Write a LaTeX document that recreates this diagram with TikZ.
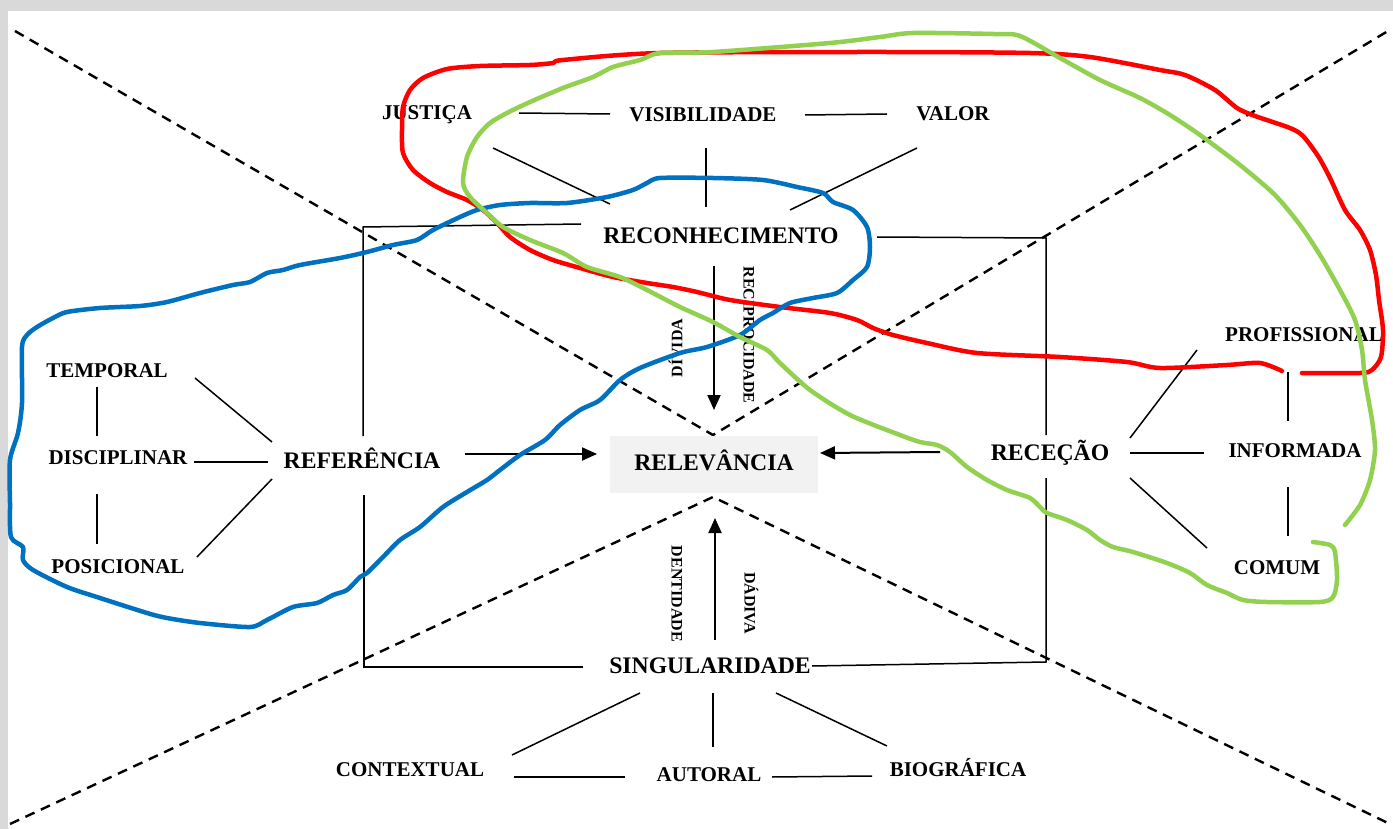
\documentclass[tikz,border=0pt]{standalone}
\usepackage{fontspec}
\setmainfont{Liberation Serif}
\usetikzlibrary{calc,arrows.meta}
\definecolor{bordergray}{HTML}{D9D9D9}
\definecolor{boxgray}{HTML}{F2F2F2}
\definecolor{hred}{HTML}{FF0000}
\definecolor{hgreen}{HTML}{92D050}
\definecolor{hblue}{HTML}{0070C0}
\begin{document}
\begin{tikzpicture}[x=1pt,y=-1pt,
  mainlbl/.style={font=\fontsize{23.7}{28}\selectfont\bfseries, inner sep=0pt, text height=15.7pt, text depth=0pt},
  smalllbl/.style={font=\fontsize{21}{25}\selectfont\bfseries, inner sep=0pt, text height=13.9pt, text depth=0pt},
  vertlbl/.style={font=\fontsize{16}{19}\selectfont\bfseries, inner sep=0pt, text height=10.6pt, text depth=0pt},
  link/.style={line width=1.5pt},
  arr/.style={line width=2pt, -{Triangle[length=15pt,width=13pt]}},
  dashline/.style={dash pattern=on 10pt off 7pt, line width=2.4pt},
  freehand/.style={line width=4.5pt, line join=round, line cap=round}]
\useasboundingbox (0,0) rectangle (1393,829);
\fill[bordergray] (0,0) rectangle (1393,829);
\fill[white] (8,11) rectangle (1393,829);

% dashed X
\coordinate (xtop) at (713,435);
\coordinate (xbot) at (713,497);
\coordinate (c1) at (15,31);
\coordinate (c2) at (1388,31);
\coordinate (c3) at (10,824);
\coordinate (c4) at (1390,824);
\draw[dashline] (c1) -- (xtop) -- (c2);
\draw[dashline] (c3) -- (xbot) -- (c4);

% nodes
\node[fill=boxgray, minimum width=208pt, minimum height=57pt, inner sep=0pt] (relbox) at (714,464) {};
\node[mainlbl] (rel) at (714,463) {RELEVÂNCIA};
\node[mainlbl] (ref) at (362,461) {REFERÊNCIA};
\node[mainlbl] (rec) at (721,236) {RECONHECIMENTO};
\node[mainlbl] (sin) at (710,666) {SINGULARIDADE};
\node[mainlbl] (rcp) at (1050,453) {RECEÇÃO};
\node[smalllbl] (jus) at (427,113) {JUSTIÇA};
\node[smalllbl] (vis) at (703,115) {VISIBILIDADE};
\node[smalllbl] (val) at (953,114) {VALOR};
\node[smalllbl] (tem) at (107,371) {TEMPORAL};
\node[smalllbl] (dis) at (118,458) {DISCIPLINAR};
\node[smalllbl] (pos) at (118,567) {POSICIONAL};
\node[smalllbl] (pro) at (1304,335) {PROFISSIONAL};
\node[smalllbl] (inf) at (1295,451) {INFORMADA};
\node[smalllbl] (com) at (1277,568) {COMUM};
\node[smalllbl] (ctx) at (410,770) {CONTEXTUAL};
\node[smalllbl] (aut) at (709,775) {AUTORAL};
\node[smalllbl] (bio) at (958,770) {BIOGRÁFICA};
\node[vertlbl, rotate=90] (duv) at (677,348) {DÍVIDA};
\node[vertlbl, rotate=-90] (recip) at (749,335) {RECIPROCIDADE};
\node[vertlbl, rotate=-90] (ident) at (677,594) {DENTIDADE};
\node[vertlbl, rotate=-90] (dad) at (750,603) {DÁDIVA};

% frame corners
\coordinate (tl) at (363,227);
\coordinate (tr) at (1046,238);
\coordinate (br) at (1046,662);
\coordinate (bl) at (364,667);

% frame lines between main nodes
\draw[link] ($(ref)+(1,-25)$) -- (tl) -- ($(rec)+(-140,-12)$);
\draw[link] ($(rec)+(156,1)$) -- (tr) -- ($(rcp)+(-4,-18)$);
\draw[link] ($(rcp)+(-4,25)$) -- (br) -- ($(sin)+(102,0)$);
\draw[link] ($(sin)+(-127,1)$) -- (bl) -- ($(ref)+(2,34)$);

% arrows to RELEVANCIA
\draw[arr] ($(rec)+(-7,30)$) -- ($(relbox)+(0,-54)$);
\draw[arr] ($(sin)+(5,-26)$) -- ($(relbox)+(1,-44)+(0,98)$);
\draw[arr] ($(ref)+(103,-7)$) -- ($(relbox)+(-117,-10)$);
\draw[arr] ($(rcp)+(-110,-1)$) -- ($(relbox)+(106,-11)$);

% top group
\draw[link] ($(jus)+(92,0)$) -- ($(vis)+(-93,-1)$);
\draw[link] ($(vis)+(102,0)$) -- ($(val)+(-66,0)$);
\draw[link] ($(jus)+(66,35)$) -- ($(rec)+(-111,-32)$);
\draw[link] ($(vis)+(3,33)$) -- ($(rec)+(-15,-29)$);
\draw[link] ($(val)+(-36,34)$) -- ($(rec)+(69,-26)$);

% left group
\draw[link] ($(ref)+(-90,-19)$) -- ($(tem)+(88,7)$);
\draw[link] ($(ref)+(-94,1)$) -- ($(dis)+(76,4)$);
\draw[link] ($(ref)+(-90,18)$) -- ($(pos)+(79,-10)$);
\draw[link] ($(tem)+(-10,16)$) -- ($(dis)+(-21,-22)$);
\draw[link] ($(dis)+(-21,36)$) -- ($(pos)+(-21,-23)$);

% right group
\draw[link] ($(rcp)+(80,-15)$) -- ($(pro)+(-107,15)$);
\draw[link] ($(rcp)+(80,0)$) -- ($(inf)+(-91,2)$);
\draw[link] ($(rcp)+(80,25)$) -- ($(com)+(-70,-20)$);
\draw[link] ($(pro)+(-16,37)$) -- ($(inf)+(-7,-30)$);
\draw[link] ($(inf)+(-7,36)$) -- ($(com)+(11,-32)$);

% bottom group
\draw[link] ($(sin)+(-70,27)$) -- ($(ctx)+(102,-15)$);
\draw[link] ($(sin)+(3,27)$) -- ($(aut)+(4,-28)$);
\draw[link] ($(sin)+(66,27)$) -- ($(bio)+(-71,-24)$);
\draw[link] ($(ctx)+(104,7)$) -- ($(aut)+(-84,2)$);
\draw[link] ($(aut)+(63,2)$) -- ($(bio)+(-86,6)$);

% freehand red
\draw[freehand, hred] plot[smooth, tension=0.45] coordinates {
(1282,371) (1260,363) (1227,365) (1160,368) (1127,362) (1060,357) (977,353) (927,343) (893,335) (873,328) (857,320) (830,313) (780,307) (730,300) (697,292) (673,287) (647,283) (613,277) (580,268) (553,260) (530,250) (510,237) (497,223) (483,210) (467,200) (447,192) (430,183) (413,170) (403,153) (402,130) (403,107) (410,90) (423,78) (447,69) (480,66) (530,65) (553,63) (563,60) (660,53) (880,52) (1030,53) (1090,57) (1160,70) (1185,75) (1215,90) (1237,108) (1255,116) (1290,128) (1303,136) (1318,156) (1330,178) (1345,210) (1360,230) (1370,250) (1376,275) (1379,300) (1383,330) (1381,357) (1372,370) (1360,373) (1302,373)};

% freehand blue
\draw[freehand, hblue] plot[smooth cycle, tension=0.45] coordinates {
(500,205) (530,203) (567,203) (607,197) (633,190) (647,183) (660,178) (713,178) (763,180) (797,187) (823,193) (833,202) (853,210) (867,227) (870,247) (867,267) (853,280) (837,293) (813,298) (790,303) (773,313) (760,320) (740,335) (707,347) (680,353) (640,368) (620,380) (600,400) (580,410) (560,425) (545,440) (520,455) (500,470) (487,480) (467,492) (443,507) (420,527) (400,540) (383,557) (367,573) (360,577) (347,590) (333,595) (317,603) (293,607) (267,620) (250,627) (200,623) (167,618) (147,613) (100,598) (67,587) (33,570) (23,560) (23,547) (11,537) (10,503) (10,460) (18,433) (22,403) (22,347) (27,335) (37,327) (53,318) (67,312) (100,308) (140,306) (167,302) (200,293) (233,285) (250,282) (267,273) (283,270) (300,265) (340,258) (367,252) (393,245) (417,240) (433,230) (460,217) (477,210)};

% freehand green
\draw[freehand, hgreen] plot[smooth, tension=0.45] coordinates {
(1313,542) (1330,545) (1335,552) (1337,580) (1333,597) (1320,602) (1267,602) (1243,600) (1227,593) (1207,585) (1190,573) (1167,563) (1133,552) (1113,547) (1100,540) (1087,530) (1067,520) (1047,513) (1040,507) (1030,498) (1007,490) (987,480) (967,467) (950,452) (937,445) (920,442) (900,435) (850,415) (810,390) (780,363) (767,350) (740,337) (713,322) (680,307) (647,290) (620,277) (587,267) (563,253) (530,240) (503,227) (487,213) (470,197) (463,183) (467,157) (477,137) (490,123) (507,113) (530,102) (563,88) (593,77) (613,67) (640,60) (660,53) (713,52) (830,43) (880,37) (913,33) (993,34) (1020,36) (1060,58) (1100,80) (1140,98) (1170,115) (1200,135) (1240,165) (1275,195) (1300,225) (1320,255) (1340,290) (1355,320) (1362,350) (1365,380) (1372,420) (1375,450) (1370,480) (1360,505) (1345,525)};
\end{tikzpicture}
\end{document}
